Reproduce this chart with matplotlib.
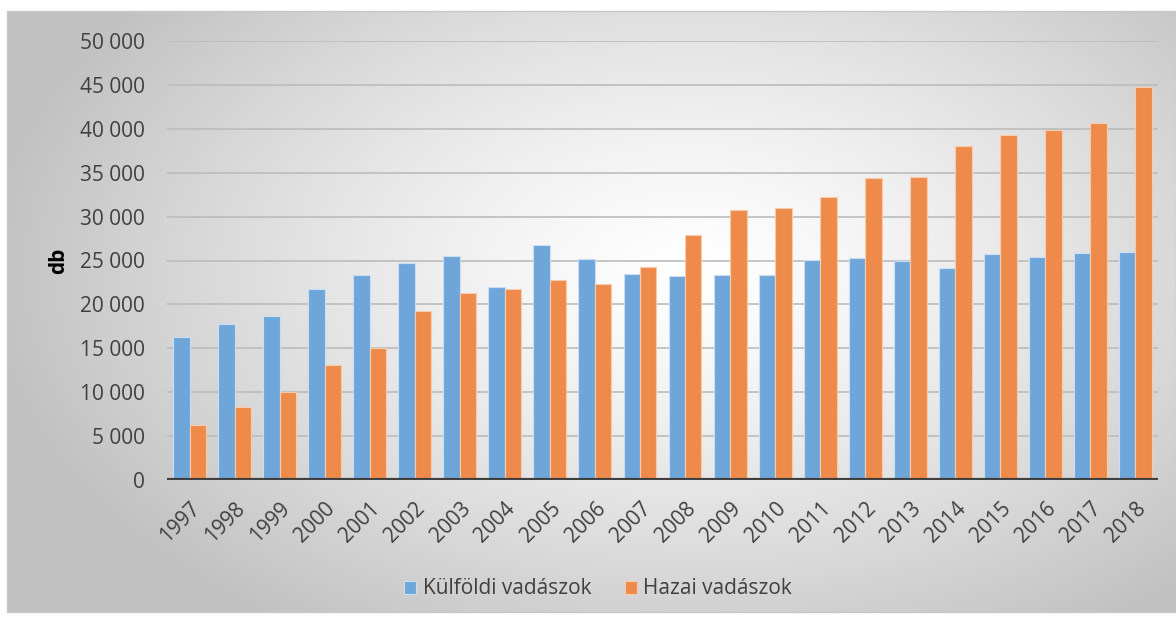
import numpy as np
import matplotlib.pyplot as plt
from matplotlib.patches import Rectangle
from matplotlib.ticker import FuncFormatter

years = [str(y) for y in range(1997, 2019)]
kulfoldi = [16300, 17750, 18700, 21700, 23400, 24700, 25550, 21950, 26800, 25170, 23480,
            23230, 23350, 23350, 25100, 25300, 24950, 24200, 25700, 25400, 25850, 25920]
hazai = [6230, 8280, 10020, 13060, 15070, 19250, 21330, 21800, 22830, 22290, 24230,
         27850, 30750, 30950, 32200, 34420, 34520, 38080, 39300, 39870, 40620, 44720]
series_names = ["Külföldi vadászok", "Hazai vadászok"]

plt.rcParams['font.family'] = ['Open Sans', 'DejaVu Sans']
txt = '#404040'

W, H = 1176, 621
fig = plt.figure(figsize=(W / 100, H / 100), dpi=100)

# background with radial gradient inside a framed box
bg = fig.add_axes([0, 0, 1, 1], zorder=-10)
bg.set_xlim(0, W)
bg.set_ylim(H, 0)
bg.axis('off')
xx, yy = np.meshgrid(np.arange(W), np.arange(H))
d = np.sqrt(((xx - 690) / 700.0) ** 2 + ((yy - 270) / 430.0) ** 2)
g = 1.0 - 0.24 * np.clip(d, 0, 1) ** 1.3
img = np.dstack([g, g, g])
x0, y0, x1, y1 = 7, 11, 1176, 612
bg.imshow(img[y0:y1, x0:x1], extent=(x0, x1, y1, y0), aspect='auto', interpolation='bilinear')
bg.add_patch(Rectangle((x0, y0), x1 - x0, y1 - y0, fill=False, edgecolor='#c8c8c8', lw=1))

ax = fig.add_axes([167 / W, 1 - 480 / H, (1158 - 167) / W, (480 - 41) / H])
ax.patch.set_alpha(0)

x = np.arange(len(years))
bw = 0.365
ax.bar(x - bw / 2, kulfoldi, bw, color='#6fa6da', edgecolor='#c9def2', lw=0.8,
       label=series_names[0], zorder=3)
ax.bar(x + bw / 2, hazai, bw, color='#ee8b4b', edgecolor='#f7cbae', lw=0.8,
       label=series_names[1], zorder=3)

ax.set_xlim(-0.5, len(years) - 0.5)
ax.set_ylim(0, 50000)
ax.set_yticks(range(0, 50001, 5000))
ax.yaxis.set_major_formatter(FuncFormatter(lambda v, p: f"{int(v):,}".replace(",", " ")))
ax.grid(axis='y', color='#bcbcbc', lw=1.2, zorder=0)
ax.axhline(0, color='#404040', lw=3, zorder=4)
for s in ax.spines.values():
    s.set_visible(False)
ax.tick_params(axis='both', length=0, labelsize=15, colors=txt)
ax.tick_params(axis='y', pad=16)
ax.set_xticks(x)
ax.set_xticklabels(years, rotation=45, ha='right', rotation_mode='anchor')
ax.tick_params(axis='x', pad=13)
ax.set_ylabel('db', fontsize=15, fontweight='bold', color='black', labelpad=8)

leg = fig.legend(loc='center', bbox_to_anchor=(598 / W, 1 - 589 / H), ncol=2, frameon=False,
                 fontsize=15, handlelength=0.6, handleheight=0.6, handletextpad=0.3,
                 columnspacing=1.6)
for t in leg.get_texts():
    t.set_color(txt)

fig.savefig('out.png', dpi=100)
